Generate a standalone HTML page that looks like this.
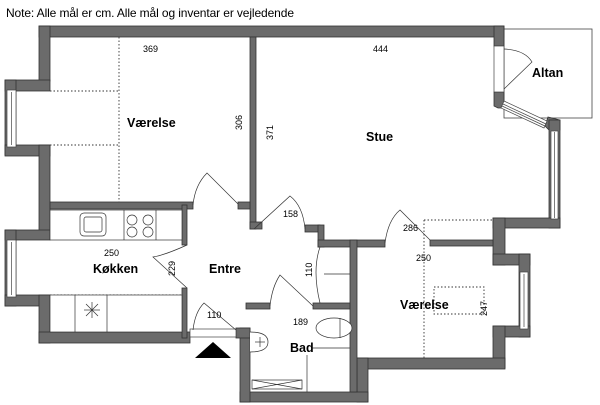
<!DOCTYPE html>
<html><head><style>body{margin:0;background:#fff}svg{display:block}</style></head><body>
<svg width="600" height="405" viewBox="0 0 600 405" xmlns="http://www.w3.org/2000/svg" font-family="Liberation Sans, sans-serif">
<text x="6" y="17" font-size="12" fill="#000" textLength="288">Note: Alle mål er cm. Alle mål og inventar er vejledende</text>
<rect x="504" y="29" width="88" height="89" fill="#fff" stroke="#444" stroke-width="0.8"/>
<g fill="#6b6b6b" stroke="#333" stroke-width="0.8">
<rect x="39" y="26" width="465" height="11"/>
<rect x="494" y="26" width="10" height="20"/>
<polygon points="494,92 504,92 504,108 498,108 494,106"/>
<polygon points="548,117 560,120 560,130 549,130 545,126"/>
<rect x="39" y="26" width="11" height="55"/>
<rect x="5" y="80" width="45" height="11"/>
<rect x="5" y="80" width="11" height="75"/>
<rect x="5" y="145" width="45" height="11"/>
<rect x="39" y="145" width="11" height="90"/>
<rect x="5" y="230" width="45" height="10"/>
<rect x="5" y="230" width="11" height="76"/>
<rect x="5" y="295" width="45" height="11"/>
<rect x="39" y="295" width="11" height="48"/>
<rect x="39" y="332" width="151" height="11"/>
<rect x="549" y="120" width="11" height="108"/>
<rect x="493" y="218" width="67" height="10"/>
<rect x="493" y="218" width="12" height="47"/>
<rect x="493" y="254" width="37" height="11"/>
<rect x="519" y="254" width="11" height="83"/>
<rect x="493" y="326" width="37" height="11"/>
<rect x="493" y="326" width="12" height="42"/>
<rect x="357" y="358" width="148" height="11"/>
<rect x="357" y="358" width="11" height="44"/>
<rect x="240" y="392" width="128" height="10"/>
<rect x="240" y="328" width="10" height="74"/>
<rect x="236" y="328" width="14" height="10"/>
<rect x="250" y="37" width="6" height="192"/>
<rect x="50" y="202" width="143" height="7"/>
<rect x="238" y="202" width="12" height="7"/>
<rect x="250" y="222" width="12" height="7"/>
<rect x="305" y="225" width="15" height="7"/>
<rect x="318" y="225" width="6" height="22"/>
<rect x="318" y="240" width="67" height="7"/>
<rect x="430" y="240" width="63" height="6"/>
<rect x="350" y="240" width="7" height="152"/>
<rect x="182" y="205" width="5" height="40"/>
<rect x="182" y="288" width="5" height="50"/>
<rect x="246" y="303" width="24" height="6"/>
<rect x="313" y="303" width="37" height="6"/>
</g>
<g fill="#fff" stroke="#444" stroke-width="0.7">
<rect x="7" y="90" width="9" height="57"/><line x1="11.5" y1="92" x2="11.5" y2="145"/>
<rect x="7" y="240" width="9" height="57"/><line x1="11.5" y1="242" x2="11.5" y2="295"/>
<rect x="520" y="272" width="8" height="57"/><line x1="524" y1="274" x2="524" y2="327"/>
<rect x="551" y="131" width="7" height="88"/><line x1="554.5" y1="132" x2="554.5" y2="218"/>
<rect x="494" y="46" width="10" height="46"/>
<polygon points="504,101 547,121 544,128 501,108"/>
<line x1="503" y1="104" x2="546" y2="124"/><line x1="502" y1="106" x2="545" y2="126"/>
<rect x="190" y="329" width="46" height="8"/>
</g>
<path d="M504,49 Q525,50 532,62 L504,89" fill="none" stroke="#333" stroke-width="0.7"/>
<g stroke="#333" stroke-width="0.9" stroke-dasharray="1.5,2" fill="none">
<line x1="119" y1="37" x2="119" y2="202"/>
<line x1="50" y1="91" x2="119" y2="91"/><line x1="50" y1="145" x2="119" y2="145"/>
<line x1="119" y1="210" x2="119" y2="240"/>
<line x1="50" y1="295" x2="182" y2="295"/>
<line x1="119" y1="295" x2="119" y2="330"/>
<line x1="424" y1="220" x2="424" y2="358"/>
<line x1="424" y1="220" x2="493" y2="220"/>
<rect x="434" y="287" width="50" height="27"/>
</g>
<g fill="#fff" stroke="#333" stroke-width="0.7">
<rect x="50" y="210" width="132" height="30"/>
<line x1="124" y1="210" x2="124" y2="240"/><line x1="156" y1="210" x2="156" y2="240"/>
<rect x="80" y="213" width="26" height="23" rx="4"/><rect x="84" y="217" width="18" height="15" rx="2"/>
<circle cx="132" cy="220" r="5"/><circle cx="148" cy="220" r="5"/><circle cx="132" cy="232" r="5"/><circle cx="148" cy="232" r="5"/>
<rect x="50" y="295" width="132" height="37"/>
<line x1="75" y1="295" x2="75" y2="332"/><line x1="107" y1="295" x2="107" y2="332"/>
<ellipse cx="334" cy="328" rx="18" ry="10"/><line x1="340" y1="318" x2="340" y2="338"/>
<path d="M250,332 Q268,332 268,342 Q268,352 250,352" />
<rect x="252" y="380" width="50" height="9"/>
<line x1="252" y1="380" x2="302" y2="389"/><line x1="252" y1="389" x2="302" y2="380"/>
<line x1="312" y1="348" x2="350" y2="348"/><line x1="307" y1="355" x2="307" y2="392"/>
<line x1="324" y1="274" x2="350" y2="274"/>
</g>
<g stroke="#333" stroke-width="0.7"><line x1="260" y1="337" x2="260" y2="347"/><line x1="255" y1="342" x2="265" y2="342"/></g>
<g stroke="#333" stroke-width="0.7"><line x1="84" y1="310" x2="100" y2="310"/><line x1="92" y1="302" x2="92" y2="318"/><line x1="86" y1="304" x2="98" y2="316"/><line x1="86" y1="316" x2="98" y2="304"/></g>
<g fill="none" stroke="#333" stroke-width="0.7">
<path d="M193,205 Q195,185 207,173 L238,204"/>
<path d="M254,229 L290,196 Q303,206 305,229"/>
<path d="M187,245 Q165,255 153,257 L187,288"/>
<path d="M193,330 Q195,312 204,303 L236,330"/>
<path d="M270,306 Q272,287 280,275 L313,306"/>
<path d="M320,247 Q312,270 320,303"/>
<path d="M385,243 Q388,220 400,210 L430,240"/>
</g>
<polygon points="195,358 213,342 231,358" fill="#000"/>
<g font-size="9" fill="#000">
<text x="143" y="52">369</text>
<text x="373" y="52">444</text>
<text x="283" y="217">158</text>
<text x="104" y="256">250</text>
<text x="207" y="318">110</text>
<text x="293" y="325">189</text>
<text x="403" y="231">286</text>
<text x="416" y="261">250</text>
<text transform="translate(242,130) rotate(-90)">306</text>
<text transform="translate(273,140) rotate(-90)">371</text>
<text transform="translate(175,276) rotate(-90)">229</text>
<text transform="translate(312,277) rotate(-90)">110</text>
<text transform="translate(487,316) rotate(-90)">247</text>
</g>
<g font-size="12.5" font-weight="bold" fill="#000">
<text x="127" y="127">Værelse</text>
<text x="366" y="141">Stue</text>
<text x="532" y="77">Altan</text>
<text x="93" y="273">Køkken</text>
<text x="209" y="273">Entre</text>
<text x="290" y="352">Bad</text>
<text x="400" y="309">Værelse</text>
</g>
</svg>
</body></html>
